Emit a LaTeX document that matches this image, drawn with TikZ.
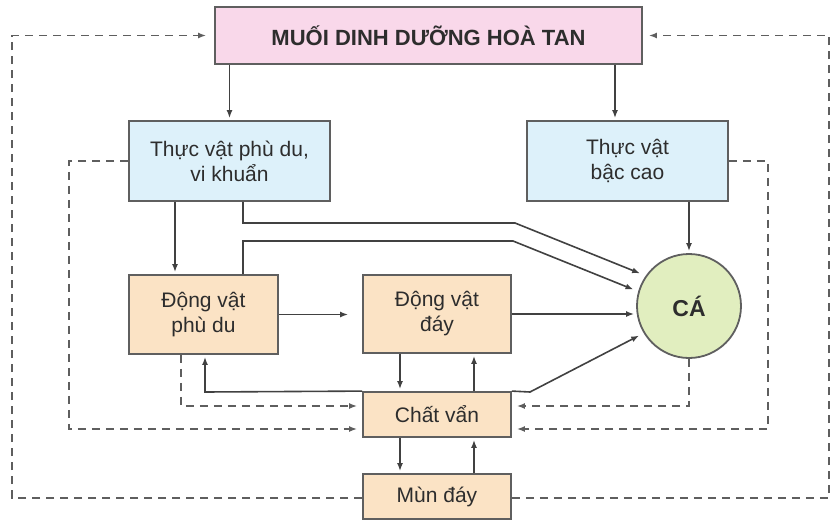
\documentclass[tikz,border=0pt]{standalone}
\usepackage{fontspec}
\setmainfont{Liberation Sans}
\usetikzlibrary{arrows.meta}
\definecolor{pinkf}{RGB}{249,216,234}
\definecolor{bluef}{RGB}{221,241,250}
\definecolor{tanf}{RGB}{251,227,197}
\definecolor{greenf}{RGB}{225,238,191}
\definecolor{edgec}{RGB}{95,95,95}
\definecolor{linec}{RGB}{65,65,65}
\definecolor{txtc}{RGB}{45,45,45}
\tikzset{
  boxn/.style={draw=edgec, line width=1.8pt, inner sep=0pt, align=center, text=txtc,
    font=\fontsize{21}{25}\selectfont},
  arr/.style={draw=linec, line width=1.6pt, -{Latex[length=8pt,width=6pt]}, shorten >=2pt},
  darr/.style={draw=linec!85, line width=1.8pt, dash pattern=on 8pt off 6pt, -{Latex[length=8pt,width=6pt]}, shorten >=5pt},
}
\begin{document}
\begin{tikzpicture}[x=1pt,y=-1pt]
\useasboundingbox (0,0) rectangle (836,522);
% nodes
\node[boxn, fill=pinkf, minimum width=427pt, minimum height=57pt, font=\fontsize{22}{25}\selectfont\bfseries] (muoi) at (428.5,35.5) {MUỐI DINH DƯỠNG HOÀ TAN};
\node[boxn, fill=bluef, minimum width=201pt, minimum height=80pt] (tvpd) at (229.5,161) {Thực vật phù du,\\vi khuẩn};
\node[boxn, fill=bluef, minimum width=201pt, minimum height=80pt] (tvbc) at (627.5,161) {Thực vật\\bậc cao};
\node[boxn, fill=tanf, minimum width=149pt, minimum height=79pt] (dvpd) at (203.5,314.5) {Động vật\\phù du};
\node[boxn, fill=tanf, minimum width=148pt, minimum height=78pt] (dvd) at (437,314) {Động vật\\đáy};
\node[boxn, fill=greenf, circle, minimum size=104pt, font=\fontsize{23}{25}\selectfont\bfseries] (ca) at (689,306) {CÁ};
\node[boxn, fill=tanf, minimum width=148pt, minimum height=45pt] (cv) at (437,414.5) {Chất vẩn};
\node[boxn, fill=tanf, minimum width=148pt, minimum height=45pt] (md) at (437,496.5) {Mùn đáy};
% bend coordinates
\coordinate (b1) at (515,223);
\coordinate (b2) at (513,241);
\coordinate (b3) at (530,392);
\coordinate (b4) at (205,392);
% solid connectors
\draw[arr] (muoi.south -| tvpd) -- (tvpd.north);
\draw[arr] (muoi.south -| 615,0) -- (tvbc.north -| 615,0);
\draw[arr] (tvpd.south -| 175,0) -- (dvpd.north -| 175,0);
\draw[arr, shorten >=6pt] (tvpd.south -| 243,0) |- (b1) -- (ca.145);
\draw[arr, shorten >=5pt] (dvpd.north -| 243,0) |- (b2) -- (ca.164);
\draw[arr] (tvbc.south -| ca) -- (ca.north);
\draw[arr, shorten >=14pt] (dvpd.east) -- (dvd.west |- dvpd.east);
\draw[arr] (dvd.east) -- (dvd.east -| ca.west);
\draw[arr, shorten >=5pt] (cv.north east) -- (b3) -- (ca.211);
\draw[arr] (cv.north west) -- (b4) -- (dvpd.south -| b4);
\draw[arr] (dvd.south -| 400,0) -- (cv.north -| 400,0);
\draw[arr] (cv.north -| 474,0) -- (dvd.south -| 474,0);
\draw[arr] (cv.south -| 400,0) -- (md.north -| 400,0);
\draw[arr] (md.north -| 474,0) -- (cv.south -| 474,0);
% dashed connectors
\draw[darr] (tvpd.west) -| (69,429) -- (cv.west |- 0,429);
\draw[darr] (tvbc.east) -| (768,429) -- (cv.east |- 0,429);
\draw[darr] (dvpd.south -| 181,0) |- (cv.west |- 0,406);
\draw[darr] (ca.south) |- (cv.east |- 0,406);
\draw[darr, shorten >=8pt] (md.west |- 0,498) -| (12,35.5) -- (muoi.west);
\draw[darr, shorten >=6pt] (md.east |- 0,498) -| (829,35.5) -- (muoi.east);
\end{tikzpicture}
\end{document}
